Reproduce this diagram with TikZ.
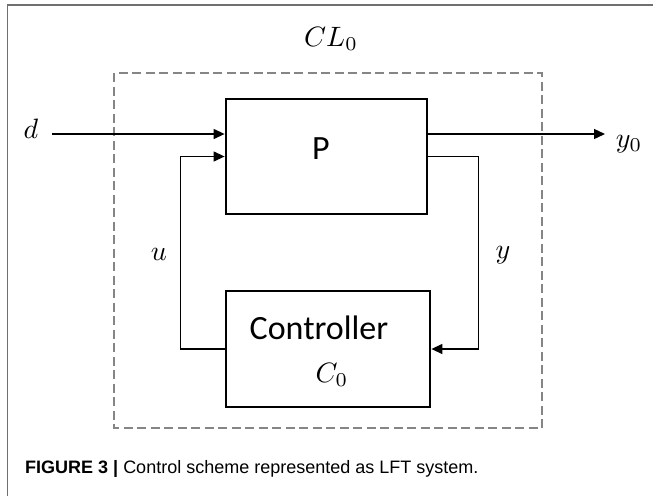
\documentclass[tikz,border=0pt]{standalone}
\usepackage{amsmath}
\usepackage{graphicx}
\usepackage{fontspec}
\newfontfamily\blockfont{Carlito}
\newfontfamily\capfont{Liberation Sans}
\usepackage{tikz}
\usetikzlibrary{positioning, calc, arrows.meta}
\usepackage{xcolor}
\definecolor{dashgray}{HTML}{858585}
\definecolor{framegray}{HTML}{707070}
\newcommand{\biglab}[1]{\scalebox{2.8}{$#1$}}

\begin{document}
\begin{tikzpicture}[x=1pt, y=-1pt, >={Triangle[length=11pt, width=10pt]},
            block/.style={draw, line width=2.8pt, minimum width=#1, minimum height=115pt, inner sep=0pt},
            sig/.style={line width=1.3pt},
            mlabel/.style={inner sep=0pt},
            blabel/.style={font=\blockfont\fontsize{34}{38}\selectfont, inner sep=0pt}]
            \useasboundingbox (0,0) rectangle (653,496);

            % frame
            \draw[framegray, line width=1.2pt] (7.5,496) -- (7.5,5) -- (653,5);

            % closed loop CL_0
            \draw[dashgray, line width=2.3pt, dash pattern=on 9pt off 4.5pt] (114,73) rectangle (542,428);
            \node[mlabel] (cl) at (331,39) {\biglab{CL_0}};

            % plant and controller
            \node[block=201pt] (plant) at (326.5,156.5) {};
            \node[blabel] (plabel) at (321,149) {P};

            \node[block=204pt, minimum height=116pt] (ctrl) at (328,349) {};
            \node[blabel] (clabel) at (319,327.5) {Controller};
            \node[mlabel] (c0) at (332,375) {\biglab{C_0}};

            % signals
            \coordinate (din) at ($(plant.west)+(0,-22.5)$);
            \coordinate (dout) at ($(plant.east)+(0,-22.5)$);
            \coordinate (dstart) at (52,134);
            \coordinate (yend) at (605,134);

            \node[mlabel] (d) at (31,129) {\biglab{d}};
            \node[mlabel] (y0) at (629,144) {\biglab{y_0}};
            \node[mlabel] (u) at (159,254) {\biglab{u}};
            \node[mlabel] (y) at (503,255) {\biglab{y}};

            \draw[sig, ->] (dstart) -- (din);
            \draw[sig, ->] (dout) -- (yend);
            \draw[sig, ->] (ctrl.west) -- ++(-44,0) |- (plant.west);
            \draw[sig, ->] (plant.east) -- ++(50,0) |- (ctrl.east);

            % caption
            \node[anchor=base west, font=\capfont\fontsize{18}{20}\selectfont, inner sep=0pt] (caption) at (25,473)
                {\textbf{FIGURE 3 |} Control scheme represented as LFT system.};
        \end{tikzpicture}
\end{document}
